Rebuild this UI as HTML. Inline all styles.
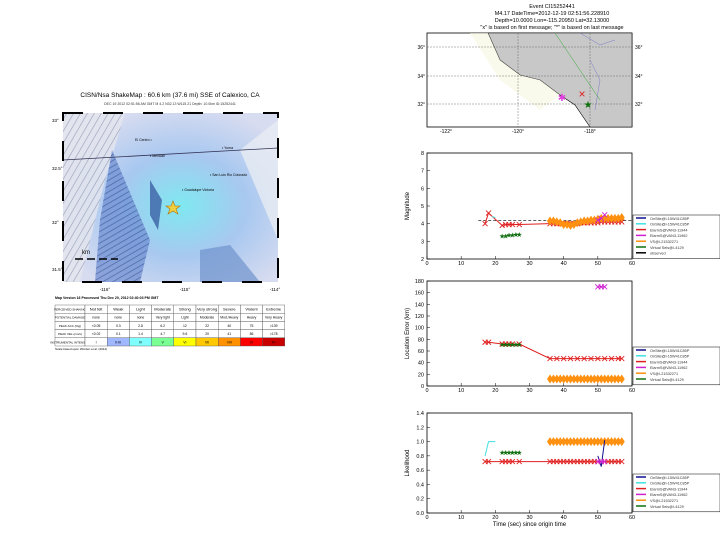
<!DOCTYPE html>
<html><head><meta charset="utf-8"><style>
body{margin:0;background:#fff;width:720px;height:540px;overflow:hidden;font-family:"Liberation Sans",sans-serif}
svg text{font-family:"Liberation Sans",sans-serif}
</style></head><body>
<svg id="s" width="720" height="540" xmlns="http://www.w3.org/2000/svg">
<defs>
<radialGradient id="sh" cx="0.55" cy="0.55" r="0.6"><stop offset="0" stop-color="#7fe8f0"/><stop offset="0.5" stop-color="#a8c8f0"/><stop offset="1" stop-color="#d8dcf0"/></radialGradient>
<pattern id="relief" width="6" height="6" patternUnits="userSpaceOnUse" patternTransform="rotate(30)"><rect width="6" height="6" fill="#e4e6ee"/><line x1="0" y1="0" x2="0" y2="6" stroke="#8890a8" stroke-width="1.2"/></pattern>
<pattern id="ridge" width="5" height="5" patternUnits="userSpaceOnUse" patternTransform="rotate(60)"><rect width="5" height="5" fill="#6c8cd0"/><line x1="0" y1="0" x2="0" y2="5" stroke="#203c88" stroke-width="1.5"/></pattern>
</defs>
<g>
<text x="170" y="97" font-size="6.5" text-anchor="middle">CISN/Nsa ShakeMap : 60.6 km (37.6 mi) SSE of Calexico, CA</text>
<text x="170" y="105" font-size="3.5" text-anchor="middle" fill="#333">DEC 19 2012 02:51:56 AM GMT  M 4.2  N32.13 W115.21  Depth: 10.0km  ID:15252441</text>
<rect x="63" y="113" width="215" height="169" fill="url(#sh)"/>
<path d="M63 113 L125 113 L105 180 L80 282 L63 282 Z" fill="url(#relief)" opacity="0.8"/>
<path d="M112 150 L150 240 L140 282 L95 282 L100 220 Z" fill="url(#ridge)" opacity="0.7"/>
<path d="M150 180 L162 200 L158 230 L150 215 Z" fill="#30509a" opacity="0.7"/>
<path d="M200 250 L230 245 L260 282 L200 282 Z" fill="#6f93cc" opacity="0.7"/>
<path d="M240 150 L278 120 L278 240 Z" fill="#e8ecf4" opacity="0.8"/>
<line x1="63" y1="160" x2="278" y2="148" stroke="#335" stroke-width="0.8"/>
<polygon points="173,201 175,206 180,206 176,209 178,214 173,211 168,214 170,209 166,206 171,206" fill="#f0d040" stroke="#b07010" stroke-width="0.6"/>
<text x="182" y="191" font-size="3.5">• Guadalupe Victoria</text>
<text x="210" y="176" font-size="3.5">• San Luis Rio Colorado</text>
<text x="135" y="141" font-size="3.5">El Centro •</text>
<text x="150" y="157" font-size="3.5">• Mexicali</text>
<text x="222" y="149" font-size="3.5">• Yuma</text>
<rect x="63" y="113" width="215" height="169" fill="none" stroke="#000" stroke-width="2" stroke-dasharray="20 20"/>
<text x="105" y="291" font-size="4.5" text-anchor="middle">-116°</text><text x="185" y="291" font-size="4.5" text-anchor="middle">-115°</text><text x="275" y="291" font-size="4.5" text-anchor="middle">-114°</text>
<text x="52" y="122" font-size="4.5">33°</text><text x="52" y="170" font-size="4.5">32.5°</text><text x="52" y="224" font-size="4.5">32°</text><text x="52" y="271" font-size="4.5">31.5°</text>
<text x="82" y="254" font-size="6">km</text><line x1="75" y1="259" x2="118" y2="259" stroke="#000" stroke-width="1.5" stroke-dasharray="8 4"/>
<text x="55" y="299" font-size="3.5" font-weight="bold">Map Version 16 Processed Thu Dec 20, 2012 02:40:03 PM GMT</text>
</g>
<g id="tbl"></g>
<g id="topmap">
<text x="552" y="8" font-size="5.5" text-anchor="middle">Event CI15252441</text>
<text x="552" y="15" font-size="5.5" text-anchor="middle">M4.17 DateTime=2012-12-19 02:51:56.228910</text>
<text x="552" y="22" font-size="5.5" text-anchor="middle">Depth=10.0000 Lon=-115.20950 Lat=32.13000</text>
<text x="552" y="29" font-size="5.5" text-anchor="middle">"x" is based on first message; "*" is based on last message</text>
<rect x="427" y="33" width="205" height="94" fill="#fff" stroke="#000" stroke-width="0.8"/>
<path d="M488 33 L632 33 L632 127 L590 127 L575 105 L560 95 L540 80 L520 75 L500 60 Z" fill="#c8c8c8" stroke="#000" stroke-width="0.6"/>
<path d="M470 33 L488 33 L500 60 L520 75 L540 80 L560 95 L540 110 L500 80 Z" fill="#f6f6e0" opacity="0.6"/>
<line x1="427" y1="47" x2="632" y2="47" stroke="#555" stroke-width="0.4" stroke-dasharray="2 1"/>
<line x1="427" y1="76" x2="632" y2="76" stroke="#555" stroke-width="0.4" stroke-dasharray="2 1"/>
<line x1="427" y1="104" x2="632" y2="104" stroke="#555" stroke-width="0.4" stroke-dasharray="2 1"/>
<line x1="518" y1="33" x2="518" y2="127" stroke="#555" stroke-width="0.4" stroke-dasharray="2 1"/>
<line x1="590" y1="33" x2="590" y2="127" stroke="#555" stroke-width="0.4" stroke-dasharray="2 1"/>
<line x1="555" y1="33" x2="600" y2="100" stroke="#3a3" stroke-width="0.5"/>
<path d="M580 33 L600 45 L615 40 M590 60 L600 80 L595 110" stroke="#66c" stroke-width="0.4" fill="none"/>
<text x="562" y="101" font-size="10" fill="#e040e0" text-anchor="middle">✱</text>
<text x="582" y="98" font-size="12" fill="#e02020" text-anchor="middle">×</text>
<text x="588" y="108" font-size="10" fill="#107010" text-anchor="middle">★</text>
<text x="425" y="49" font-size="5" text-anchor="end">36°</text><text x="425" y="78" font-size="5" text-anchor="end">34°</text><text x="425" y="106" font-size="5" text-anchor="end">32°</text>
<text x="635" y="49" font-size="5">36°</text><text x="635" y="78" font-size="5">34°</text><text x="635" y="106" font-size="5">32°</text>
<text x="446" y="133" font-size="5" text-anchor="middle">-122°</text><text x="518" y="133" font-size="5" text-anchor="middle">-120°</text><text x="590" y="133" font-size="5" text-anchor="middle">-118°</text>
</g>
<g id="c1"></g>
<g id="c2"></g>
<g id="c3"></g>
</svg>
<script>
const NS="http://www.w3.org/2000/svg";
function el(p,t,a){const e=document.createElementNS(NS,t);for(const k in a)e.setAttribute(k,a[k]);p.appendChild(e);return e;}
const tblRows=["PERCEIVED SHAKING","POTENTIAL DAMAGE","PEAK ACC.(%g)","PEAK VEL.(cm/s)","INSTRUMENTAL INTENSITY"];
const tblCols=[["Not felt","none","<0.05","<0.02","I"],["Weak","none","0.3","0.1","II-III"],["Light","none","2.8","1.4","IV"],["Moderate","Very light","6.2","4.7","V"],["Strong","Light","12","9.6","VI"],["Very strong","Moderate","22","20","VII"],["Severe","Mod./Heavy","40","41","VIII"],["Violent","Heavy","75","86","IX"],["Extreme","Very Heavy",">139",">178","X+"]];
const tblColors=["#fff","#a0b8ff","#80ffff","#7aff93","#ffff00","#ffc800","#ff9100","#ff0000","#c80000"];
{const t=document.getElementById('tbl');const x0=55,y0=305,w0=30,cw=22.2,rh=8.2;
for(let r=0;r<5;r++){const r1=el(t,'rect',{x:x0,y:y0+r*rh,width:w0,height:rh,fill:'#fff',stroke:'#555','stroke-width':0.4});

const tx=el(t,'text',{x:x0+w0/2,y:y0+r*rh+5.5,'font-size':3,'text-anchor':'middle'});tx.textContent=tblRows[r];}
tblCols.forEach((c,i)=>{c.forEach((v,r)=>{const rc=el(t,'rect',{x:x0+w0+i*cw,y:y0+r*rh,width:cw,height:rh,fill:r==4?tblColors[i]:'#fff',stroke:'#555','stroke-width':0.4});

const tx=el(t,'text',{x:x0+w0+i*cw+cw/2,y:y0+r*rh+5.5,'font-size':r==0?4:3.4,'text-anchor':'middle'});tx.textContent=v;});});
const n=el(t,'text',{x:55,y:y0+5*rh+4,'font-size':3});n.textContent="Scale based upon Worden et al. (2012)";}
const legendNames=["OnSite@I-15W41C85P","OnSite@I-15W41C85P","ElarmS@VAN3-11944","ElarmS@VAN3-11962","VS@I-21532271","Virtual Seis@I-4129","observed"];
const colors=["#101090","#40e0e0","#e02020","#d020d0","#ff9010","#107010","#000"];
const magRedX=[17,18,22,23,24,25,27,36,37,38,39,40,41,42,43,44,45,46,47,48,49,50,51,52,53,54,55,56,57];
const magRedY=[4.0,4.6,3.9,3.95,3.95,3.95,3.95,4.0,4.0,4.0,4.0,4.0,4.0,4.0,4.0,4.0,4.05,4.05,4.05,4.05,4.05,4.05,4.1,4.1,4.1,4.1,4.1,4.1,4.1];
const magCyanX=[19,20];const magCyanY=[4.4,4.35];
const magOrX=[36,37,38,39,40,41,42,43,44,45,46,47,48,49,50,51,52,53,54,55,56,57];
const magOrY=[4.15,4.15,4.1,4.05,3.95,3.95,3.9,3.95,4.05,4.1,4.15,4.15,4.2,4.2,4.25,4.3,4.3,4.3,4.3,4.3,4.3,4.35];
const magMagX=[50,51,52];const magMagY=[4.2,4.3,4.5];
const magGrX=[22,23,24,25,26,27];const magGrY=[3.3,3.3,3.35,3.35,3.4,3.4];
const observedMag=4.17;
const errRedX=[17,18,22,23,24,25,27,36,38,40,42,44,46,48,50,52,54,56,57];
const errRedY=[75,75,72,72,72,72,72,47,47,47,47,47,47,47,47,47,47,47,47];
const errGrX=[22,23,24,25,26,27];const errGrY=[71,71,71,71,71,71];
const errOrX=magOrX;const errOrY=[12,12,12,12,12,12,12,12,12,12,12,12,12,12,12,12,12,12,12,12,12,12];
const errMagX=[50,51,52];const errMagY=[170,170,170];
const lkCyanX=[17,18,19,20];const lkCyanY=[0.8,1.0,1.0,1.0];
const lkGrX=[22,23,24,25,26,27];const lkGrY=[0.85,0.85,0.85,0.85,0.85,0.85];
const lkRedX=[17,18,22,23,24,25,27,36,37,38,39,40,41,42,43,44,45,46,47,48,49,50,51,52,53,54,55,56,57];
const lkRedY=[0.72,0.72,0.72,0.72,0.72,0.72,0.72,0.72,0.72,0.72,0.72,0.72,0.72,0.72,0.72,0.72,0.72,0.72,0.72,0.72,0.72,0.72,0.72,0.72,0.72,0.72,0.72,0.72,0.72];
const lkOrX=magOrX;const lkOrY=[1,1,1,1,1,1,1,1,1,1,1,1,1,1,1,1,1,1,1,1,1,1];
const lkBlueX=[50,51,52];const lkBlueY=[0.8,0.65,1.02];
const lkMagX=[50,51,52];const lkMagY=[0.72,0.72,0.72];
const xTicks=[0,10,20,30,40,50,60];
function mark(g,t,x,y,c){
 if(t=='x'){el(g,'path',{d:`M${x-2.5} ${y-2.5}L${x+2.5} ${y+2.5}M${x-2.5} ${y+2.5}L${x+2.5} ${y-2.5}`,stroke:c,'stroke-width':0.9,fill:'none'});}
 else if(t=='d'){el(g,'path',{d:`M${x} ${y-4.5}L${x+3} ${y}L${x} ${y+4.5}L${x-3} ${y}Z`,fill:c});}
 else if(t=='s'){const e=el(g,'text',{x:x,y:y+2.5,'font-size':7,fill:c,'text-anchor':'middle'});e.textContent='★';}
}
function chart(id,top,bot,ymin,ymax,yticks,ylab,series,legTop,showXlab,fmt){
 const g=document.getElementById(id),L=427,R=632;
 const sx=v=>L+(v-0)/(60-0)*(R-L), sy=v=>bot-(v-ymin)/(ymax-ymin)*(bot-top);
 el(g,'rect',{x:L,y:top,width:R-L,height:bot-top,fill:'#fff',stroke:'#000','stroke-width':0.8});
 yticks.forEach(v=>{el(g,'line',{x1:L,x2:L+3,y1:sy(v),y2:sy(v),stroke:'#000','stroke-width':0.5});
 const t=el(g,'text',{x:L-3,y:sy(v)+2,'font-size':5.5,'text-anchor':'end'});t.textContent=fmt(v);
 });
 xTicks.forEach(v=>{el(g,'line',{x1:sx(v),x2:sx(v),y1:bot,y2:bot-3,stroke:'#000','stroke-width':0.5});
 const t=el(g,'text',{x:sx(v),y:bot+6,'font-size':5.5,'text-anchor':'middle'});t.textContent=v;
 });
 const yl=el(g,'text',{x:0,y:0,'font-size':6,'text-anchor':'middle',transform:`translate(${L-18},${(top+bot)/2}) rotate(-90)`});yl.textContent=ylab;
 
 if(showXlab){const xl=el(g,'text',{x:(L+R)/2,y:bot+13,'font-size':6,'text-anchor':'middle'});xl.textContent="Time (sec) since origin time";
 }
 series.forEach(s=>{
  if(s.h!==undefined){const ln=el(g,'line',{x1:sx(15),x2:sx(60),y1:sy(s.h),y2:sy(s.h),stroke:'#000','stroke-width':0.6,'stroke-dasharray':'3 2'});
   return;}
  const sg=el(g,'g',{});
  el(sg,'polyline',{points:s.x.map((v,i)=>sx(v)+','+sy(s.y[i])).join(' '),fill:'none',stroke:colors[s.c],'stroke-width':1});
  if(s.m)s.x.forEach((v,i)=>mark(sg,s.m,sx(v),sy(s.y[i]),colors[s.c]));
 });
 const n=legendNames.length-(id=='c1'?0:1),lh=5.8;
 const lg=el(g,'g',{});
 el(lg,'rect',{x:633,y:legTop,width:87,height:n*lh+3,fill:'#fff',stroke:'#000','stroke-width':0.5});
 for(let i=0;i<n;i++){const y=legTop+3+i*lh;el(lg,'line',{x1:636,x2:646,y1:y,y2:y,stroke:colors[i],'stroke-width':1.5});
  const t=el(lg,'text',{x:650,y:y+1.8,'font-size':3.8,fill:'#333'});t.textContent=legendNames[i];
  }
}
chart('c1',153,259,2,8,[2,3,4,5,6,7,8],'Magnitude',[
 {h:observedMag},{n:'red',x:magRedX,y:magRedY,c:2,m:'x'},{n:'cyan',x:magCyanX,y:magCyanY,c:1},{n:'orange',x:magOrX,y:magOrY,c:4,m:'d'},
 {n:'magenta',x:magMagX,y:magMagY,c:3,m:'x'},{n:'green',x:magGrX,y:magGrY,c:5,m:'s'}],215,false,v=>v);
chart('c2',281,386,0,180,[0,20,40,60,80,100,120,140,160,180],'Location Error (km)',[
 {n:'red',x:errRedX,y:errRedY,c:2,m:'x'},{n:'green',x:errGrX,y:errGrY,c:5,m:'s'},{n:'orange',x:errOrX,y:errOrY,c:4,m:'d'},
 {n:'magenta',x:errMagX,y:errMagY,c:3,m:'x'}],347,false,v=>v);
chart('c3',413,513,0,1.4,[0,0.2,0.4,0.6,0.8,1.0,1.2,1.4],'Likelihood',[
 {n:'cyan',x:lkCyanX,y:lkCyanY,c:1},{n:'green',x:lkGrX,y:lkGrY,c:5,m:'s'},{n:'red',x:lkRedX,y:lkRedY,c:2,m:'x'},
 {n:'orange',x:lkOrX,y:lkOrY,c:4,m:'d'},{n:'blue',x:lkBlueX,y:lkBlueY,c:0},{n:'magenta',x:lkMagX,y:lkMagY,c:3,m:'x'}],474,true,v=>v.toFixed(1));
</script>
</body></html>
